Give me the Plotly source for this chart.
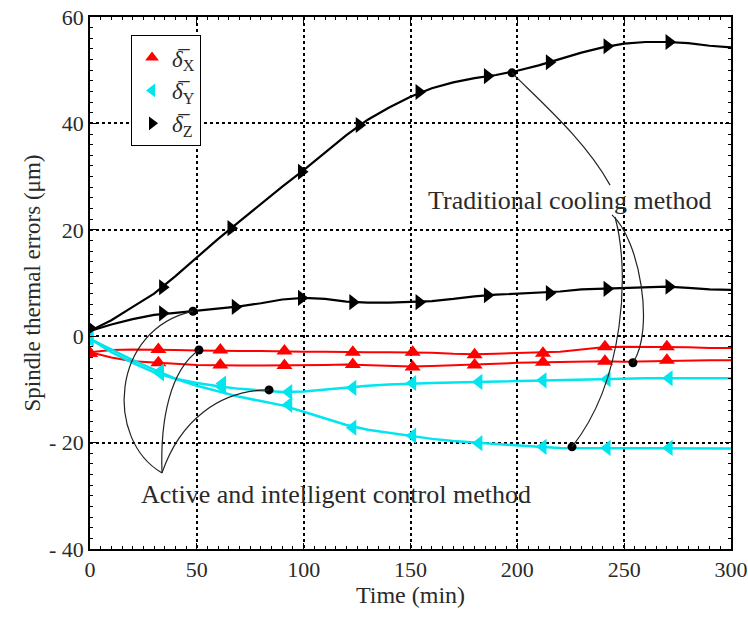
import plotly.graph_objects as go

# ---------------- data ----------------
t_line = [0, 10, 20, 30, 40, 50, 60, 70, 80, 90, 100, 110, 120, 130, 140, 150,
          160, 170, 180, 190, 200, 210, 220, 230, 240, 250, 260, 270, 280, 290, 300]

# Traditional cooling method
trad_z = [1, 3, 5.5, 8, 11.3, 14.8, 18.3, 21.6, 24.9, 28.1, 31.2, 34.5, 37.8, 40.7, 43, 45,
          46.6, 47.7, 48.5, 49.1, 49.9, 50.9, 52.1, 53.3, 54.3, 55, 55.3, 55.3, 55.1, 54.6, 54.3]
trad_x = [-3, -4, -4.7, -5, -5.2, -5.4, -5.5, -5.5, -5.5, -5.5, -5.4, -5.4, -5.3, -5.4, -5.6, -5.7,
          -5.6, -5.5, -5.4, -5.2, -5.0, -4.9, -4.8, -4.7, -4.7, -4.8, -4.7, -4.6, -4.6, -4.5, -4.5]
trad_y = [-0.5, -2.5, -4.5, -6.3, -8, -9.3, -10.4, -11.4, -12.2, -13, -14.2, -15.5, -16.7, -17.6, -18.2, -18.8,
          -19.3, -19.7, -20, -20.3, -20.6, -20.8, -21, -21, -21, -21, -21, -21, -21.1, -21.1, -21.1]

# Active and intelligent control method
act_z = [1, 2.2, 3.2, 4, 4.4, 4.8, 5.2, 5.6, 6.2, 6.9, 7.2, 7, 6.5, 6.3, 6.3, 6.4,
         6.6, 7, 7.5, 7.8, 8, 8.1, 8.4, 8.8, 8.9, 9, 9.2, 9.3, 9.1, 8.8, 8.7]
act_x = [-3, -2.6, -2.5, -2.5, -2.6, -2.7, -2.8, -2.8, -2.8, -2.9, -2.9, -2.9, -3.0, -3.0, -3.0, -3.0,
         -3.1, -3.3, -3.4, -3.3, -3.2, -3.1, -2.9, -2.5, -2.1, -2.0, -2.0, -2.0, -2.1, -2.2, -2.2]
act_y = [-0.5, -3, -5, -6.8, -8, -8.8, -9.4, -9.9, -10.2, -10.5, -10.4, -10, -9.6, -9.3, -9.1, -8.9,
         -8.8, -8.7, -8.6, -8.5, -8.4, -8.3, -8.2, -8.1, -8.1, -8, -7.9, -7.9, -7.9, -7.9, -7.9]

# marker positions
mk_z_t = [0, 34, 66, 99, 126, 154, 186, 215, 242, 271]
mk_z_trad = [1.5, 9.2, 20.3, 30.9, 39.7, 45.9, 48.9, 51.5, 54.5, 55.3]
mk_z_a = [34, 68, 99, 123, 154, 186, 215, 242, 271]
mk_z_act = [4.3, 5.5, 7.2, 6.4, 6.4, 7.7, 8.1, 8.9, 9.3]

mk_x_t = [0, 32, 61, 91, 123, 151, 180, 212, 241, 270]
mk_x_act = [-3.2, -2.5, -2.6, -2.8, -3.0, -3.0, -3.5, -3.2, -2.0, -2.0]
mk_x_trad = [-3.2, -5.0, -5.4, -5.5, -5.3, -5.8, -5.4, -4.9, -4.7, -4.5]

mk_y_t = [0, 33, 62, 93, 123, 151, 182, 212, 242, 271]
mk_y_act = [-0.5, -7.0, -8.9, -10.5, -9.7, -8.8, -8.6, -8.3, -8.1, -7.9]
mk_y_trad = [-0.5, -6.6, -9.6, -12.9, -17.2, -18.7, -20.1, -20.8, -21.0, -21.0]

# annotation anchor dots
dot_x = [48.2, 51.0, 83.8, 197.5, 254.1, 225.6]
dot_y = [4.7, -2.6, -10.1, 49.5, -5.0, -20.8]

y_ticks = [-40, -20, 0, 20, 40, 60]
y_ticktext = ["- 40", "- 20", "0", "20", "40", "60"]
x_ticks = [0, 50, 100, 150, 200, 250, 300]

RED = "#ff0000"
CYAN = "#00e5ee"
BLACK = "#000000"
FONT = "Liberation Serif"
TXT = "#2a2a2a"

fig = go.Figure()

def add_line(y, color, width):
    fig.add_trace(go.Scatter(x=t_line, y=y, mode="lines", line=dict(color=color, width=width),
                             showlegend=False, hoverinfo="skip"))

add_line(trad_z, BLACK, 2.2)
add_line(act_z, BLACK, 2.2)
add_line(trad_x, RED, 2)
add_line(act_x, RED, 2)
add_line(trad_y, CYAN, 2.5)
add_line(act_y, CYAN, 2.5)

def add_markers(x, y, color, symbol, name=None, legend=False):
    fig.add_trace(go.Scatter(x=x, y=y, mode="markers", name=name, showlegend=legend,
                             marker=dict(color=color, symbol=symbol, size=14, line=dict(width=0)),
                             hoverinfo="skip"))

lab = '<i>δ\u0305</i><sub>%s</sub>'
add_markers(mk_x_t, mk_x_act, RED, "triangle-up", lab % "X", True)
add_markers(mk_x_t, mk_x_trad, RED, "triangle-up")
add_markers(mk_y_t, mk_y_act, CYAN, "triangle-left", lab % "Y", True)
add_markers(mk_y_t, mk_y_trad, CYAN, "triangle-left")
add_markers(mk_z_t, mk_z_trad, BLACK, "triangle-right", lab % "Z", True)
add_markers(mk_z_a, mk_z_act, BLACK, "triangle-right")

# connector curves (data coordinates)
curves = [
    "M 33.7,-25.7 C 7.0,-19.5 9.4,1.2 48.2,4.7",
    "M 33.7,-25.7 C 32.8,-15.8 37.4,-6.4 51.0,-2.6",
    "M 33.7,-25.7 C 42.1,-15.8 60.8,-10.1 83.8,-10.1",
    "M 197.5,49.5 C 210.6,44.2 231.7,36.9 243.4,28.4",
    "M 244.3,22.8 C 257.4,18.1 264.4,1.2 254.1,-5.0",
    "M 245.7,22.4 C 252.7,12.4 250.4,-8.2 225.6,-20.8",
]
for p in curves:
    fig.add_shape(type="path", path=p, xref="x", yref="y", line=dict(color="#222222", width=1.2))

fig.add_trace(go.Scatter(x=dot_x, y=dot_y, mode="markers", showlegend=False, hoverinfo="skip",
                         marker=dict(color=BLACK, size=9, symbol="circle")))

fig.add_annotation(x=115, y=-29.7, text="Active and intelligent control method", showarrow=False,
                   font=dict(family=FONT, size=26, color=TXT))
fig.add_annotation(x=224.6, y=25.6, text="Traditional cooling method", showarrow=False,
                   font=dict(family=FONT, size=26, color=TXT))

axis_common = dict(
    showline=True, linecolor="black", linewidth=1.5, mirror="ticks",
    ticks="inside", ticklen=6, tickcolor="black", tickwidth=1,
    showgrid=True, gridcolor="black", gridwidth=1.5, griddash="dot",
    zeroline=False, automargin=False,
    tickfont=dict(family=FONT, size=22, color=TXT),
)

fig.update_xaxes(range=[0, 300], tickvals=x_ticks, **axis_common,
                 minor=dict(ticks="inside", ticklen=3, dtick=5, tickcolor="black", showgrid=False),
                 title=dict(text="Time (min)", font=dict(family=FONT, size=24, color=TXT), standoff=2))
fig.update_yaxes(range=[-40, 60], tickvals=y_ticks, ticktext=y_ticktext, **axis_common,
                 minor=dict(ticks="inside", ticklen=3, dtick=2, tickcolor="black", showgrid=False),
                 title=dict(text="Spindle thermal errors (μm)", font=dict(family=FONT, size=23, color=TXT),
                            standoff=2))

fig.update_layout(
    width=748, height=621,
    margin=dict(l=90, r=17, t=17, b=72),
    plot_bgcolor="white", paper_bgcolor="white",
    legend=dict(x=0.064, y=0.966, xanchor="left", yanchor="top",
                bgcolor="white", bordercolor="black", borderwidth=1,
                font=dict(family=FONT, size=23, color=TXT),
                itemsizing="constant", tracegroupgap=0),
)

fig.write_html("out.html", config={"displayModeBar": False},
               post_script="document.body.style.margin='0';")
